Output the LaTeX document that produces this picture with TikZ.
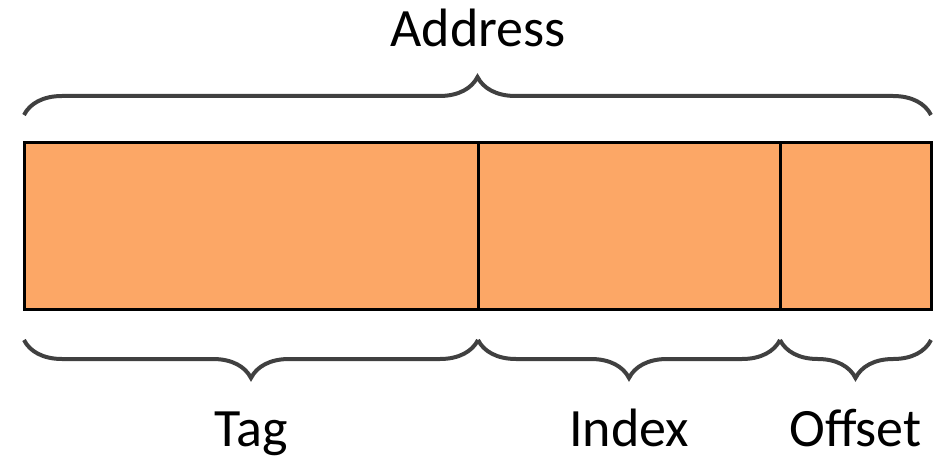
\documentclass[tikz,border=0pt]{standalone}
\usepackage{fontspec}
\setmainfont{Carlito}
\usetikzlibrary{decorations.pathreplacing}

\definecolor{fieldfill}{RGB}{252,167,102}
\definecolor{bracegray}{RGB}{64,64,64}

\begin{document}
\begin{tikzpicture}
    [x=1pt, y=1pt,
     field/.style={draw=black, line width=3pt, fill=fieldfill,
       inner sep=0pt, outer sep=0pt, minimum height=166pt, anchor=south west},
     bracket/.style={decorate, decoration={brace, amplitude=38pt},
       draw=bracegray, line width=4pt},
     fieldname/.style={font=\fontsize{54}{60}\selectfont, anchor=base}]
    \useasboundingbox (0,0) rectangle (944,458);

    % the three fields of the address
    \node[field, minimum width=454pt] (tag) at (24,149) {};
    \node[field, minimum width=302pt] (index) at (tag.south east) {};
    \node[field, minimum width=151pt] (offset) at (index.south east) {};

    % brace over the whole address
    \draw[bracket] ([yshift=28pt]tag.north west) -- ([yshift=28pt]offset.north east);
    \node[fieldname] (address) at ([yshift=96pt]tag.north east) {Address};

    % one brace and name under each field
    \foreach \f/\t in {tag/Tag, index/Index, offset/Offset}
    {
      \draw[bracket, decoration={mirror}] ([yshift=-31pt]\f.south west) -- ([yshift=-31pt]\f.south east);
      \node[fieldname] (\f-name) at ([yshift=-137pt]\f.south) {\t};
    }
  \end{tikzpicture}
\end{document}
